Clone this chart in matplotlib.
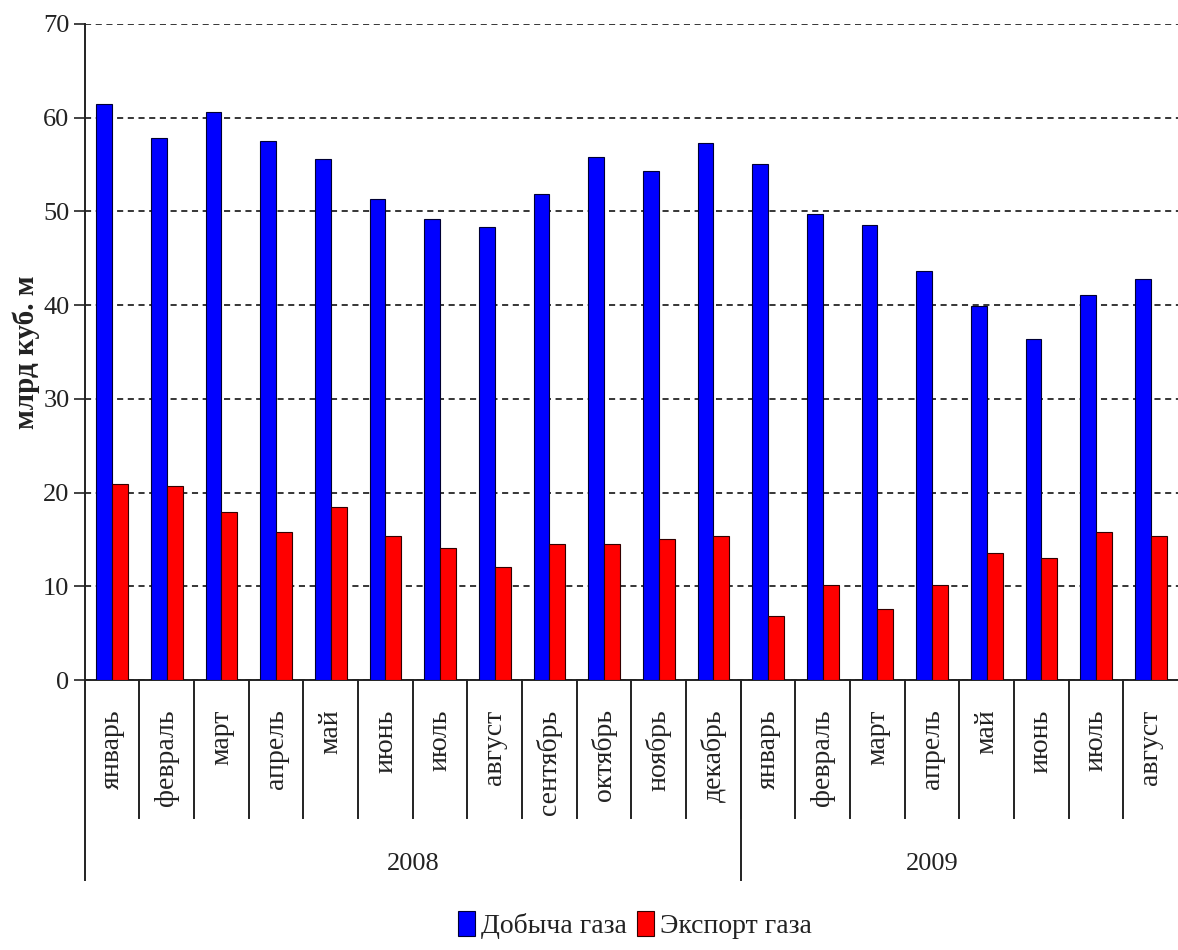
import matplotlib
matplotlib.use("Agg")
import matplotlib.pyplot as plt
import matplotlib.transforms as mtransforms

plt.rcParams['font.family'] = ['Liberation Serif', 'DejaVu Serif']

months = ['январь', 'февраль', 'март', 'апрель', 'май', 'июнь', 'июль', 'август',
          'сентябрь', 'октябрь', 'ноябрь', 'декабрь',
          'январь', 'февраль', 'март', 'апрель', 'май', 'июнь', 'июль', 'август']
years = ['2008', '2009']
year_counts = [12, 8]

production = [61.4, 57.8, 60.6, 57.5, 55.6, 51.3, 49.2, 48.3, 51.8, 55.8, 54.3, 57.3,
              55.0, 49.7, 48.5, 43.6, 39.9, 36.4, 41.1, 42.8]
export = [20.9, 20.7, 17.9, 15.8, 18.5, 15.4, 14.1, 12.1, 14.5, 14.5, 15.1, 15.4,
          6.8, 10.2, 7.6, 10.2, 13.6, 13.0, 15.8, 15.4]

fig = plt.figure(figsize=(11.78, 9.5), dpi=100)
ax = fig.add_axes([0.072, 0.284, 0.928, 0.691])

x = list(range(len(months)))
w = 0.29
ax.bar([i - w / 2 for i in x], production, width=w, color='#0000ff',
       edgecolor='#000033', linewidth=0.8, label='Добыча газа', zorder=3)
ax.bar([i + w / 2 for i in x], export, width=w, color='#ff0000',
       edgecolor='#330000', linewidth=0.8, label='Экспорт газа', zorder=3)

ax.set_xlim(-0.5, len(months) - 0.5)
ax.set_ylim(0, 70)
ax.set_yticks(range(0, 71, 10))
ax.yaxis.grid(True, linestyle=(0, (4, 3)), color='black', linewidth=1.1)
ax.set_axisbelow(True)

for s in ['top', 'right']:
    ax.spines[s].set_visible(False)
ax.spines['left'].set_linewidth(1.4)
ax.spines['bottom'].set_linewidth(1.4)
ax.spines['left'].set_color('#222222')
ax.spines['bottom'].set_color('#222222')

ax.tick_params(axis='y', labelsize=19, length=8, width=1.2, colors='#222222', pad=3)
ax.set_xticks(x)
ax.set_xticklabels(months, rotation=90, fontsize=20, color='#222222', va='top')
ax.tick_params(axis='x', length=0, pad=21)

ax.set_ylabel('млрд куб. м', fontsize=21, fontweight='bold', color='#222222', labelpad=2)

# multi-level category separators
trans = mtransforms.blended_transform_factory(ax.transData, ax.transAxes)
for i in range(1, len(months)):
    ax.plot([i - 0.5, i - 0.5], [0, -0.21], transform=trans, color='#222222',
            linewidth=1.4, clip_on=False)
ax.plot([-0.5, -0.5], [0, -0.305], transform=trans, color='#222222',
        linewidth=1.4, clip_on=False)
start = 0
year_centers = [5.5, 15.0]
for yr, cnt, c in zip(years, year_counts, year_centers):
    if start > 0:
        ax.plot([start - 0.5, start - 0.5], [0, -0.305], transform=trans,
                color='#222222', linewidth=1.4, clip_on=False)
    ax.text(c, -0.28, yr, transform=trans, ha='center', va='center',
            fontsize=19, color='#222222')
    start += cnt

fig.legend(loc='center', bbox_to_anchor=(0.539, 0.026), ncol=2, frameon=False,
           fontsize=20, handlelength=0.6, handleheight=1.0, handletextpad=0.2,
           columnspacing=0.4, labelcolor='#222222')

fig.savefig('out.png', dpi=100)
